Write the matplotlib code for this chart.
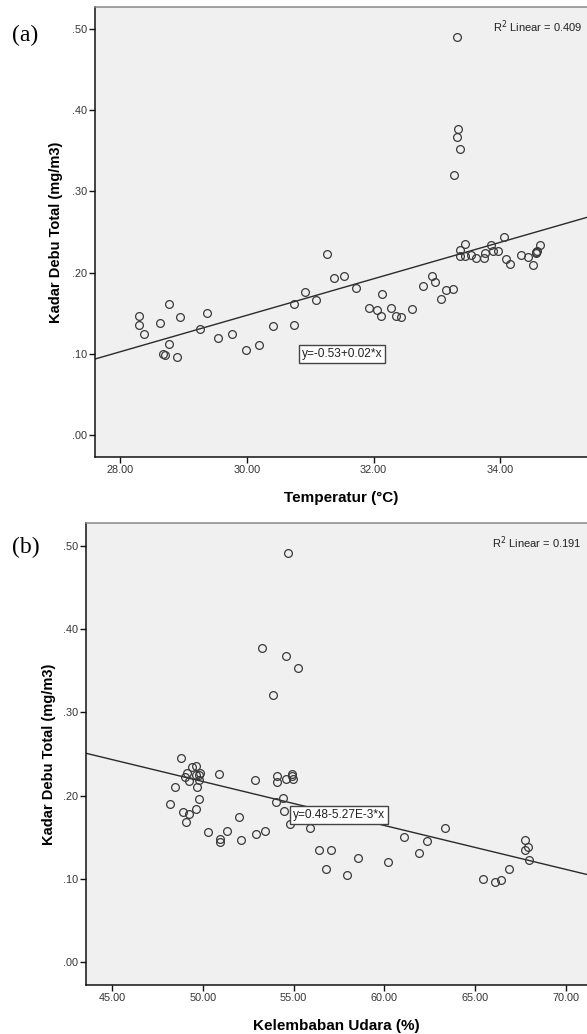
import numpy as np
import matplotlib
matplotlib.use("Agg")
import matplotlib.pyplot as plt
from matplotlib.ticker import FuncFormatter

# ---------------- data ----------------
temp = [28.30, 28.30, 28.38, 28.77, 28.62, 28.95, 28.77, 28.67, 28.71, 28.90,
        29.26, 29.37, 29.54, 29.76, 29.99, 30.19, 30.41, 30.74, 30.75, 30.91,
        31.09, 31.38, 31.53, 31.26, 31.72, 32.14, 31.93, 32.06, 32.12, 32.27,
        32.35, 32.43, 32.61, 32.78, 32.93, 32.97, 33.07, 33.15, 33.25, 33.45,
        33.36, 33.36, 33.45, 33.54, 33.62, 33.74, 33.76, 33.85, 33.89, 33.96,
        34.06, 34.09, 34.15, 34.32, 34.44, 34.52, 34.56, 34.58, 34.62, 34.57,
        33.31, 33.33, 33.31, 33.37, 33.27]
dust_a = [0.147, 0.136, 0.124, 0.161, 0.138, 0.145, 0.112, 0.100, 0.098, 0.096,
          0.131, 0.150, 0.120, 0.125, 0.105, 0.111, 0.134, 0.135, 0.161, 0.176,
          0.166, 0.193, 0.196, 0.223, 0.181, 0.174, 0.157, 0.154, 0.147, 0.157,
          0.147, 0.145, 0.155, 0.184, 0.196, 0.189, 0.168, 0.178, 0.180, 0.235,
          0.228, 0.220, 0.220, 0.222, 0.218, 0.218, 0.224, 0.234, 0.226, 0.227,
          0.244, 0.217, 0.210, 0.222, 0.219, 0.209, 0.225, 0.226, 0.234, 0.224,
          0.490, 0.377, 0.367, 0.352, 0.320]

humid = [54.67, 53.28, 54.60, 55.25, 53.85, 48.82, 49.42, 49.61, 49.15, 49.02,
         49.84, 49.79, 49.61, 49.26, 49.79, 50.89, 49.66, 48.47, 49.79, 48.19,
         49.61, 48.89, 49.26, 49.07, 51.99, 50.30, 51.33, 50.96, 50.95, 52.09,
         52.93, 53.44, 52.87, 54.07, 54.07, 54.56, 54.89, 54.93, 54.98, 54.05,
         54.43, 54.49, 54.80, 55.90, 56.40, 57.04, 56.77, 57.96, 58.53, 60.22,
         61.06, 61.89, 62.37, 63.34, 65.43, 66.11, 66.44, 66.89, 67.76, 67.93,
         67.72, 67.94]
dust_b = [0.491, 0.377, 0.368, 0.353, 0.321, 0.245, 0.2345, 0.236, 0.227, 0.223,
          0.227, 0.225, 0.2245, 0.218, 0.219, 0.2265, 0.210, 0.210, 0.196, 0.190,
          0.184, 0.180, 0.178, 0.169, 0.174, 0.156, 0.1575, 0.148, 0.145, 0.147,
          0.154, 0.1575, 0.219, 0.224, 0.217, 0.2205, 0.2265, 0.224, 0.2205, 0.193,
          0.197, 0.182, 0.166, 0.161, 0.135, 0.1346, 0.112, 0.105, 0.125, 0.1205,
          0.150, 0.1317, 0.1454, 0.161, 0.100, 0.0964, 0.0984, 0.1124, 0.147, 0.1386,
          0.135, 0.1233]

fit_a = (-0.526, 0.02245)      # intercept, slope
fit_b = (0.4805, -0.00527)
r2_a = "0.409"
r2_b = "0.191"
eq_a = "y=-0.53+0.02*x"
eq_b = "y=0.48-5.27E-3*x"
xticks_a = [28, 30, 32, 34]
xticks_b = [45, 50, 55, 60, 65, 70]
yticks = [0.0, 0.1, 0.2, 0.3, 0.4, 0.5]

# ---------------- figure ----------------
plt.rcParams['font.family'] = ['Liberation Sans', 'DejaVu Sans']
fig = plt.figure(figsize=(5.87, 10.34), dpi=100)

def ytick_fmt(v, pos):
    s = f"{v:.2f}"
    return s[1:] if s.startswith("0") else s

def style_axes(ax, xticks, xlabel, ylabelpad):
    ax.set_facecolor('#f0f0f0')
    ax.spines['right'].set_visible(False)
    ax.spines['top'].set_color('#888888')
    ax.spines['left'].set_color('#111111')
    ax.spines['bottom'].set_color('#111111')
    for s in ('top', 'left', 'bottom'):
        ax.spines[s].set_linewidth(1.1)
    ax.set_xticks(xticks)
    ax.set_yticks(yticks)
    ax.xaxis.set_major_formatter(FuncFormatter(lambda v, p: f"{v:.2f}"))
    ax.yaxis.set_major_formatter(FuncFormatter(ytick_fmt))
    ax.tick_params(direction='out', length=4, width=1, colors='#111111',
                   labelsize=7.8, labelcolor='#333333', pad=2)
    ax.set_ylabel("Kadar Debu Total (mg/m3)", fontsize=10.5, fontweight='bold',
                  labelpad=ylabelpad)
    ax.set_xlabel(xlabel, fontsize=11, fontweight='bold', labelpad=11.5)

def draw_panel(ax, x, y, fit, xlim, r2, eq, eq_pos, tag):
    ax.set_xlim(*xlim)
    ax.set_ylim(-0.027, 0.527)
    xl = np.array(xlim)
    ax.plot(xl, fit[0] + fit[1] * xl, color='#2a2a2a', lw=1.0, zorder=2)
    ax.plot(x, y, linestyle='none', marker='o', markersize=5.6,
            markerfacecolor='none', markeredgecolor='#3a3a3a',
            markeredgewidth=0.9, zorder=3)
    ax.text(0.99, 0.975, r"R$^2$ Linear = " + r2, transform=ax.transAxes,
            ha='right', va='top', fontsize=8, color='#222222')
    ax.text(eq_pos[0], eq_pos[1], eq, transform=ax.transAxes, ha='center',
            va='center', fontsize=8.6, color='#222222', zorder=4,
            bbox=dict(boxstyle='square,pad=0.25', facecolor='white',
                      edgecolor='#444444', linewidth=1.0))
    fig.text(tag[0], tag[1], tag[2], fontsize=17, family='Liberation Serif',
             ha='left', va='center')

ax1 = fig.add_axes([95/587, 1 - 457/1034, 492/587, 450/1034])
style_axes(ax1, xticks_a, "Temperatur (°C)", 6)
draw_panel(ax1, temp, dust_a, fit_a, (27.6, 35.37), r2_a, eq_a,
           ((342 - 95) / 492, (457 - 354) / 450), (12/587, 1 - 35/1034, "(a)"))

ax2 = fig.add_axes([86/587, 1 - 985/1034, 501/587, 462/1034])
style_axes(ax2, xticks_b, "Kelembaban Udara (%)", 5)
draw_panel(ax2, humid, dust_b, fit_b, (43.57, 71.16), r2_b, eq_b,
           ((339 - 86) / 501, (985 - 815) / 462), (12/587, 1 - 547/1034, "(b)"))

fig.savefig("out.png", dpi=100)
